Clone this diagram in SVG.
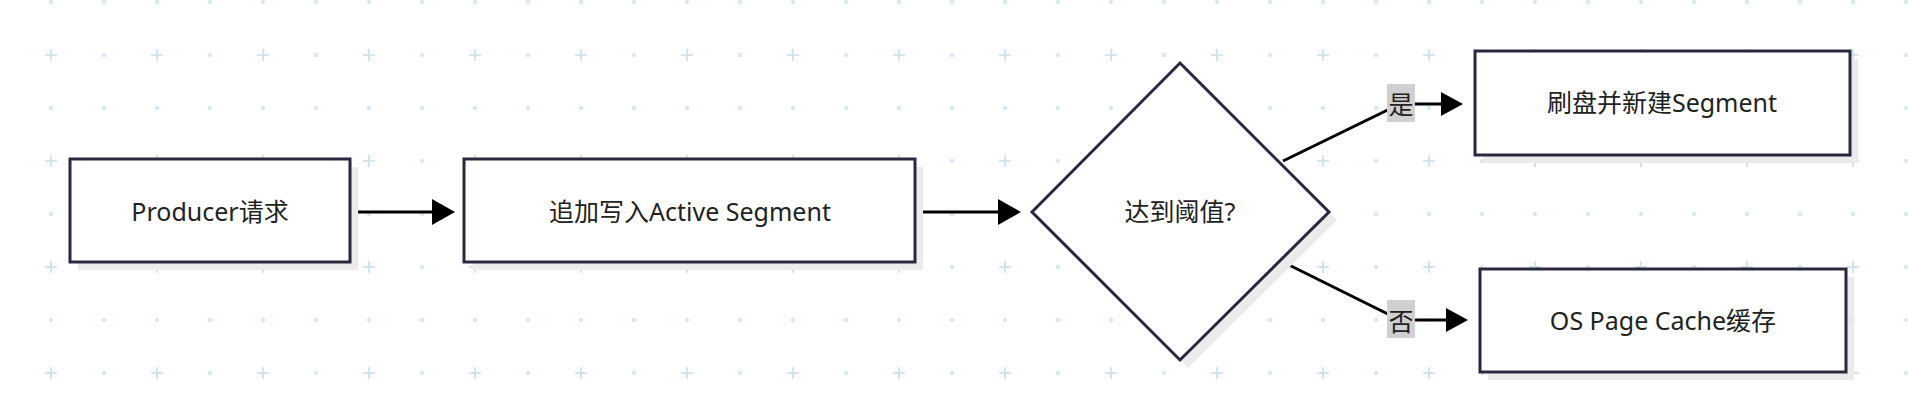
<svg xmlns="http://www.w3.org/2000/svg" width="1908" height="408" viewBox="0 0 1908 408">
<defs>
<pattern id="grid" x="51" y="55" width="106" height="106" patternUnits="userSpaceOnUse">
<path d="M0 -6V6M-6 0H6M106 -6V6M100 0H112M0 100V112M-6 106H6M106 100V112M100 106H112" stroke="#cfe6ec" stroke-width="2"/>
<circle cx="53" cy="0" r="2.2" fill="#d6ebf0"/><circle cx="0" cy="53" r="2.2" fill="#d6ebf0"/><circle cx="53" cy="53" r="2.2" fill="#d6ebf0"/><circle cx="53" cy="106" r="2.2" fill="#d6ebf0"/><circle cx="106" cy="53" r="2.2" fill="#d6ebf0"/>
</pattern>
<marker id="arr" markerWidth="10" markerHeight="10" refX="9" refY="5" orient="auto" markerUnits="userSpaceOnUse" viewBox="0 0 10 10"><path d="M0 0L10 5L0 10z" fill="#000"/></marker>
<style>
.box{fill:#fff;stroke:#2a2840;stroke-width:3}
.sh{fill:#ebebeb}
.t{font-family:"Noto Sans","Noto Sans CJK SC",sans-serif;font-size:25px;fill:#222;text-anchor:middle;dominant-baseline:central}
.c{stroke:#000;stroke-width:3;fill:none;marker-end:url(#arr)}
.lb{fill:#d0d0d0}
</style>
</defs>
<rect width="1908" height="408" fill="#fff"/>
<rect width="1908" height="408" fill="url(#grid)"/>
<g id="connectors">
<path class="c" d="M350 212H451" style="marker-end:none"/><path d="M432 199L455 212L432 225z"/>
<path class="c" d="M915 212H998" style="marker-end:none"/><path d="M998 199L1021 212L998 225z"/>
<path class="c" d="M1283 161L1400 104H1443" style="marker-end:none"/><path d="M1441 92L1463 104L1441 116z"/>
<path class="c" d="M1283 262L1400 320H1447" style="marker-end:none"/><path d="M1446 308L1468 320L1446 332z"/>
<rect class="lb" x="1387" y="84" width="28" height="38"/><text class="t" x="1401" y="104">是</text>
<rect class="lb" x="1387" y="300" width="28" height="38"/><text class="t" x="1401" y="321">否</text>
</g>
<g id="n1"><rect class="sh" x="78" y="167" width="280" height="103"/><rect class="box" x="70" y="159" width="280" height="103"/><text class="t" x="210" y="211">Producer请求</text></g>
<g id="n2"><rect class="sh" x="472" y="167" width="451" height="103"/><rect class="box" x="464" y="159" width="451" height="103"/><text class="t" x="690" y="211">追加写入Active Segment</text></g>
<g id="n3"><path class="sh" d="M1188 71L1337 220L1188 368L1040 220z"/><path class="box" d="M1180 63L1329 212L1180 360L1032 212z"/><text class="t" x="1180" y="211">达到阈值?</text></g>
<g id="n4"><rect class="sh" x="1483" y="59" width="375" height="104"/><rect class="box" x="1475" y="51" width="375" height="104"/><text class="t" x="1662" y="102">刷盘并新建Segment</text></g>
<g id="n5"><rect class="sh" x="1488" y="277" width="366" height="103"/><rect class="box" x="1480" y="269" width="366" height="103"/><text class="t" x="1663" y="320">OS Page Cache缓存</text></g>
</svg>
